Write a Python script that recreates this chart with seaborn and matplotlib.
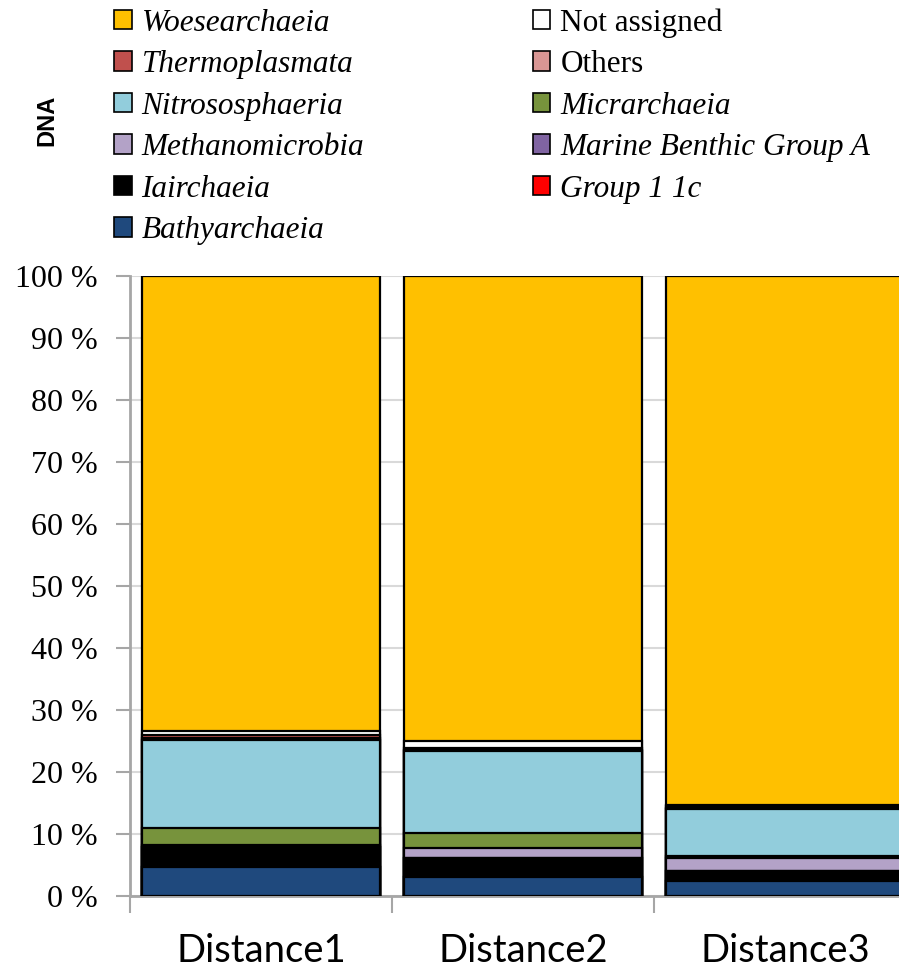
import matplotlib
matplotlib.use("Agg")
import matplotlib.pyplot as plt
import matplotlib.patches as mpatches
import seaborn as sns
import numpy as np
import pandas as pd

samples = ["Distance1", "Distance2", "Distance3"]

# stack order, bottom to top
taxa = ["Bathyarchaeia", "Group 1 1c", "Iairchaeia", "Marine Benthic Group A",
        "Methanomicrobia", "Micrarchaeia", "Nitrososphaeria", "Others",
        "Thermoplasmata", "Not assigned", "Woesearchaeia"]

bathyarchaeia = [4.7, 3.1, 2.4]
group_1_1c = [0.0, 0.0, 0.0]
iairchaeia = [3.2, 3.1, 1.7]
mbga = [0.0, 0.0, 0.0]
methanomicrobia = [0.3, 1.6, 2.1]
micrarchaeia = [2.7, 2.4, 0.3]
nitrososphaeria = [14.3, 13.2, 7.5]
others = [0.3, 0.2, 0.2]
thermoplasmata = [0.5, 0.3, 0.3]
not_assigned = [0.6, 1.1, 0.2]
woesearchaeia = [73.4, 75.0, 85.3]

colors = {
    "Woesearchaeia": "#FFC000",
    "Not assigned": "#FFFFFF",
    "Thermoplasmata": "#C0504D",
    "Others": "#D99694",
    "Nitrososphaeria": "#92CDDC",
    "Micrarchaeia": "#77933C",
    "Methanomicrobia": "#B3A2C7",
    "Marine Benthic Group A": "#8064A2",
    "Iairchaeia": "#000000",
    "Group 1 1c": "#FF0000",
    "Bathyarchaeia": "#1F497D",
}

df = pd.DataFrame({
    "Bathyarchaeia": bathyarchaeia,
    "Group 1 1c": group_1_1c,
    "Iairchaeia": iairchaeia,
    "Marine Benthic Group A": mbga,
    "Methanomicrobia": methanomicrobia,
    "Micrarchaeia": micrarchaeia,
    "Nitrososphaeria": nitrososphaeria,
    "Others": others,
    "Thermoplasmata": thermoplasmata,
    "Not assigned": not_assigned,
    "Woesearchaeia": woesearchaeia,
}, index=samples)

# normalise to 100 %
df = df.div(df.sum(axis=1), axis=0) * 100
cum = df.cumsum(axis=1)

sns.set_style("white")
plt.rcParams["text.color"] = "black"
plt.rcParams["xtick.color"] = "black"
plt.rcParams["ytick.color"] = "black"

fig = plt.figure(figsize=(8.99, 9.69), dpi=100)
ax = fig.add_axes([130 / 899, 73 / 969, 786 / 899, 620 / 969])

# draw cumulative totals from the top down so each layer covers the one above
for t in reversed(taxa):
    sns.barplot(x=samples, y=cum[t].values, color=colors[t], edgecolor="black",
                linewidth=1.6, width=0.91, saturation=1, ax=ax, zorder=3)

ax.set_xlim(-0.5, 2.5)
ax.set_ylim(0, 100)
ax.set_yticks(np.arange(0, 101, 10))
ax.set_yticklabels([f"{v} %" for v in range(0, 101, 10)],
                   family="Liberation Serif", fontsize=23)
ax.yaxis.grid(True, color="#D9D9D9", linewidth=1.5, zorder=0)
ax.set_axisbelow(True)

ax.set_xticks([0, 1, 2])
ax.set_xticklabels(samples, family="Lato", fontsize=27.5)
ax.set_xticks([-0.5, 0.5, 1.5], minor=True)
ax.tick_params(axis="x", which="major", length=0, pad=27, labelcolor="black")
ax.tick_params(axis="x", which="minor", length=12, width=1.5, color="#A6A6A6",
               direction="out", bottom=True)
ax.tick_params(axis="y", length=10, width=1.5, color="#A6A6A6", direction="out",
               left=True, pad=13, labelcolor="black")

for s in ["top", "right"]:
    ax.spines[s].set_visible(False)
for s in ["left", "bottom"]:
    ax.spines[s].set_color("#A6A6A6")
    ax.spines[s].set_linewidth(2)

ax.set_xlabel("")
ax.set_ylabel("")

# legend, read row by row as in the reference
col1 = ["Woesearchaeia", "Thermoplasmata", "Nitrososphaeria", "Methanomicrobia",
        "Iairchaeia", "Bathyarchaeia"]
col2 = ["Not assigned", "Others", "Micrarchaeia", "Marine Benthic Group A",
        "Group 1 1c"]
names = col1 + col2
handles = [mpatches.Patch(facecolor=colors[n], edgecolor="black", linewidth=1.2)
           for n in names]
leg = fig.legend(handles, names, ncol=2, loc="upper left",
                 bbox_to_anchor=(100 / 899, 1.0 + 6 / 969), frameon=False,
                 prop={"family": "Liberation Serif", "size": 22.5},
                 handlelength=0.56, handleheight=0.56, handletextpad=0.32,
                 labelspacing=0.4, columnspacing=5.4, borderaxespad=0.05)
for txt in leg.get_texts():
    txt.set_color("black")
    if txt.get_text() not in ("Not assigned", "Others"):
        txt.set_fontstyle("italic")

fig.text(47 / 899, 1 - 120 / 969, "DNA", rotation=90, ha="center", va="center",
         family="Liberation Sans", fontweight="bold", fontsize=17, color="black")

fig.savefig("out.png", dpi=100)
